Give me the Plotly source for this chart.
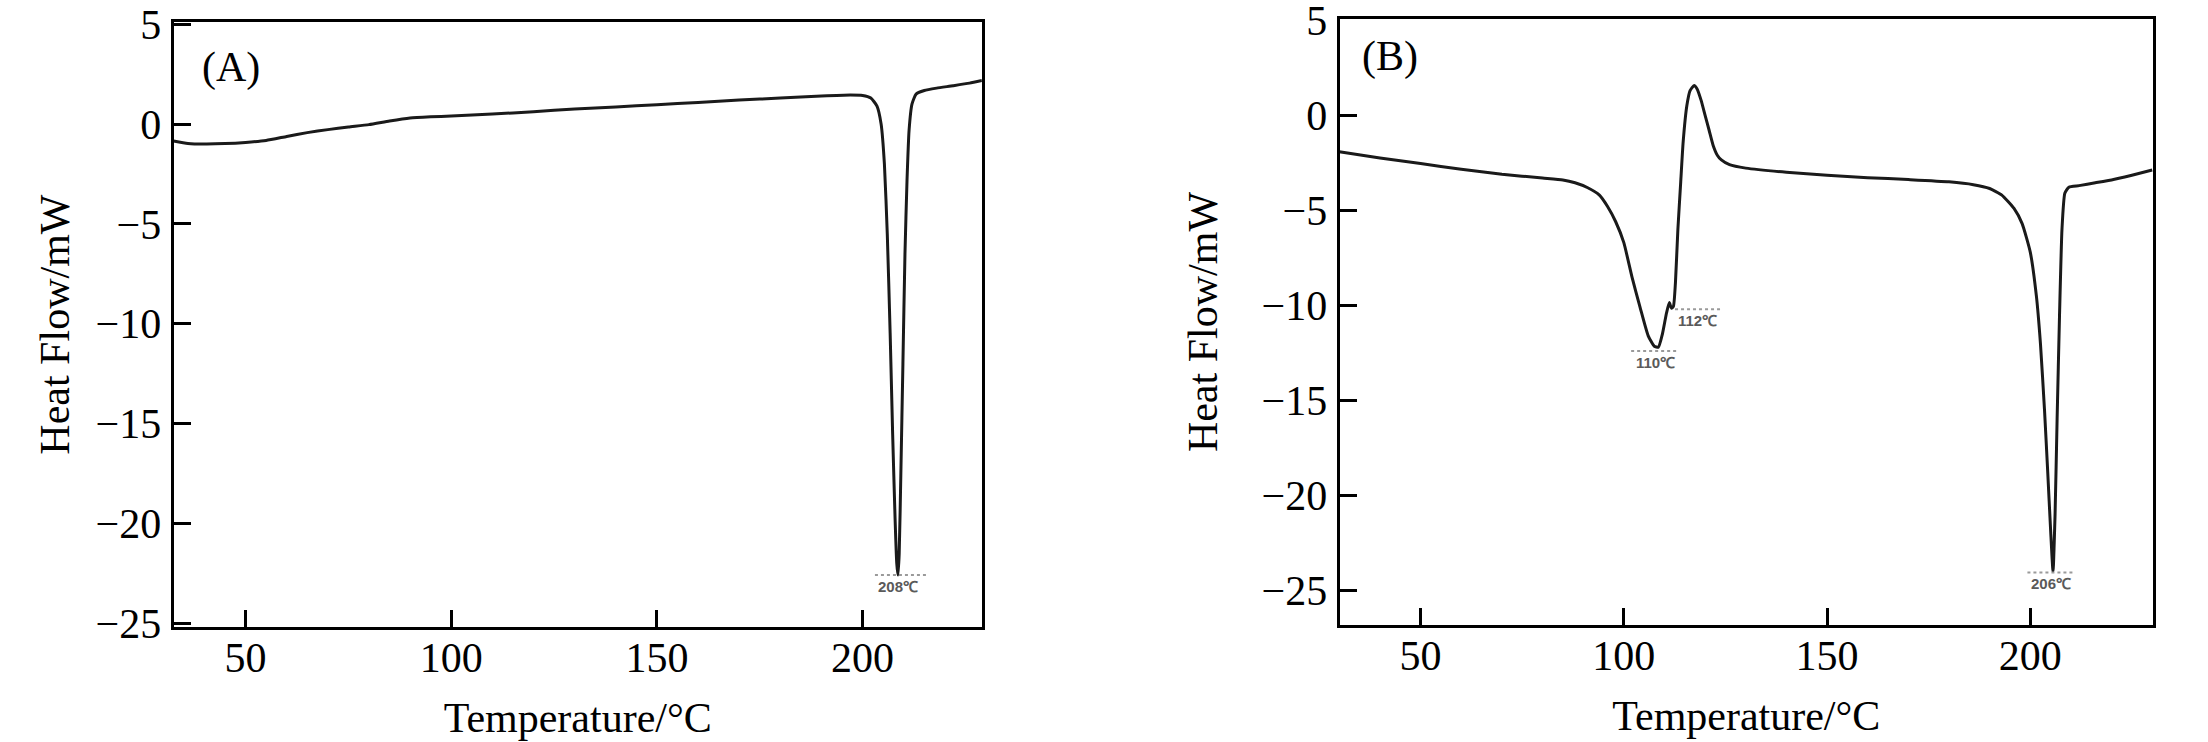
import plotly.graph_objects as go
from plotly.subplots import make_subplots

# panel A - DSC curve
temp_a = [32.5, 36, 40, 45, 50, 55, 60, 65, 70, 75, 80, 85, 90, 95, 100, 110, 120, 130,
          140, 150, 160, 170, 180, 190, 197, 200, 202, 203.5, 204.5, 205.3, 206, 206.7,
          207.3, 207.9, 208.3, 208.6, 208.9, 209.3, 209.8, 210.3, 210.8, 211.3, 212, 213,
          215, 218, 222, 226, 229]
flow_a = [-0.85, -0.97, -1.0, -0.98, -0.92, -0.82, -0.62, -0.43, -0.28, -0.15, -0.03, 0.15,
          0.3, 0.36, 0.4, 0.5, 0.62, 0.75, 0.86, 0.97, 1.08, 1.2, 1.3, 1.4, 1.45, 1.43, 1.3,
          0.9, 0.0, -2.0, -5.5, -10.5, -15.5, -19.8, -22.0, -22.6, -21.5, -17.5, -12.0, -6.5,
          -2.8, -0.3, 1.0, 1.5, 1.68, 1.8, 1.92, 2.05, 2.18]

# panel B - DSC curve
temp_b = [30, 40, 50, 60, 70, 80, 85, 88, 91, 94, 96, 98, 100, 102, 104, 106, 107.5, 108.5,
          109.5, 110.5, 111.2, 111.7, 112.2, 112.7, 113.3, 114, 114.6, 115.5, 116.3, 117.3,
          118, 119, 120, 121, 122, 123, 124, 126, 130, 140, 150, 160, 170, 180, 186, 190,
          193, 196, 198, 200, 201.5, 202.5, 203.5, 204.3, 205, 205.6, 206.1, 206.6, 207.2,
          207.8, 208.5, 209.5, 212, 216, 220, 225, 230]
flow_b = [-1.92, -2.25, -2.54, -2.84, -3.1, -3.3, -3.4, -3.55, -3.8, -4.2, -4.8, -5.6, -6.7,
          -8.5, -10.1, -11.6, -12.15, -12.2, -11.5, -10.4, -9.85, -10.15, -10.05, -8.8, -6.0,
          -3.5, -1.4, 0.5, 1.3, 1.57, 1.4, 0.8, 0.0, -0.8, -1.6, -2.1, -2.35, -2.6, -2.78,
          -3.0, -3.15, -3.28, -3.38, -3.5, -3.65, -3.85, -4.2, -4.9, -5.7, -7.2, -9.5, -12.0,
          -15.5, -18.8, -21.8, -24.0, -21.0, -16.0, -10.5, -6.0, -4.1, -3.78, -3.7, -3.55,
          -3.4, -3.15, -2.88]

# peak labels: (panel, text, x, y, dotted line start, dotted line end)
peak_labels = [
    (1, "208℃", 208.6, -22.6, 203.0, 215.4),
    (2, "110℃", 107.9, -12.4, 101.8, 113.5),
    (2, "112℃", 118.2, -10.2, 112.6, 123.8),
    (2, "206℃", 205.2, -24.05, 199.3, 211.0),
]
# panel tags with their spot inside the plot frame (fraction of frame)
panel_tags = [("(A)", 0.033, 0.926), ("(B)", 0.025, 0.938)]

SERIF = "Liberation Serif"
INK = "#1a1a1a"

fig = make_subplots(rows=1, cols=2)
fig.add_trace(go.Scatter(x=temp_a, y=flow_a, mode="lines",
                         line=dict(color=INK, width=3, shape="spline", smoothing=0.5)),
              row=1, col=1)
fig.add_trace(go.Scatter(x=temp_b, y=flow_b, mode="lines",
                         line=dict(color=INK, width=3, shape="spline", smoothing=0.5)),
              row=1, col=2)

axis_common = dict(
    showline=True, linecolor="black", linewidth=3, mirror=True,
    ticks="inside", ticklen=17, tickwidth=3, tickcolor="black",
    showgrid=False, zeroline=False, automargin=False, ticklabeloverflow="allow",
    tickfont=dict(family=SERIF, size=42, color="black"),
    title_font=dict(family=SERIF, size=42, color="black"),
)

fig.update_xaxes(axis_common, ticklabelstandoff=-8)
fig.update_yaxes(axis_common, ticklabelstandoff=1)

fig.update_layout(
    xaxis=dict(domain=[0.0786, 0.4447], range=[32.5, 229], tickvals=[50, 100, 150, 200],
               title=dict(text="Temperature/°C", standoff=23)),
    yaxis=dict(domain=[0.155, 0.970], range=[-25.2, 5.1], tickvals=[-25, -20, -15, -10, -5, 0, 5],
               title=dict(text="Heat Flow/mW", standoff=13)),
    xaxis2=dict(domain=[0.6067, 0.9751], range=[30.07, 230.2], tickvals=[50, 100, 150, 200],
                title=dict(text="Temperature/°C", standoff=23)),
    yaxis2=dict(domain=[0.158, 0.974], range=[-26.8, 5.05], tickvals=[-25, -20, -15, -10, -5, 0, 5],
                title=dict(text="Heat Flow/mW", standoff=31)),
    width=2208, height=742,
    margin=dict(l=0, r=0, t=0, b=0),
    plot_bgcolor="white", paper_bgcolor="white",
    showlegend=False,
)

for i, (tag, tx, ty) in enumerate(panel_tags):
    sfx = "" if i == 0 else str(i + 1)
    fig.add_annotation(text=tag, xref=f"x{sfx} domain", yref=f"y{sfx} domain",
                       x=tx, y=ty, xanchor="left", yanchor="middle", showarrow=False,
                       font=dict(family=SERIF, size=42, color="black"))

for panel, text, px, py, x0, x1 in peak_labels:
    sfx = "" if panel == 1 else str(panel)
    fig.add_shape(type="line", xref=f"x{sfx}", yref=f"y{sfx}", x0=x0, x1=x1, y0=py, y1=py,
                  line=dict(color="#9a9a9a", width=2, dash="dot"))
    fig.add_annotation(text=f"<b>{text}</b>", xref=f"x{sfx}", yref=f"y{sfx}", x=px, y=py,
                       xanchor="center", yanchor="top", yshift=-1, showarrow=False,
                       font=dict(family="Liberation Sans", size=15, color="#5a5a5a"))

# page margin would shift the whole figure
fig.write_html("out.html", config={"displayModeBar": False},
               post_script="document.body.style.margin='0';")
